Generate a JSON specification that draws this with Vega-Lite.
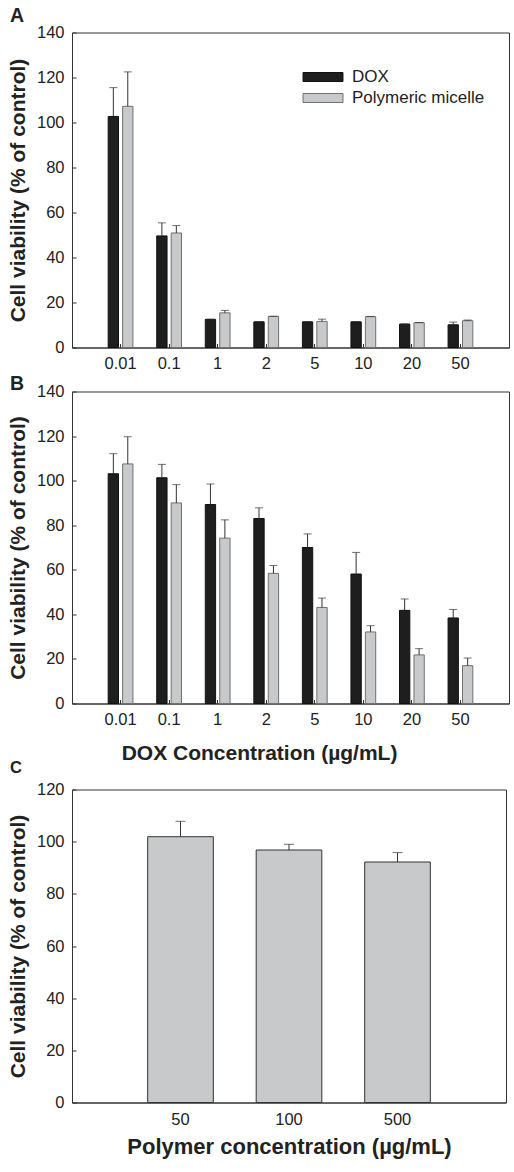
{
  "$schema": "https://vega.github.io/schema/vega-lite/v6.json",
  "background": "white",
  "padding": {"left": 6, "top": 5.5, "right": 5, "bottom": 5},
  "spacing": -4,
  "datasets": {
    "a": [
      {"conc": "0.01", "group": "DOX", "value": 102.7, "upper": 115.5},
      {"conc": "0.1", "group": "DOX", "value": 49.6, "upper": 55.4},
      {"conc": "1", "group": "DOX", "value": 12.5, "upper": 12.6},
      {"conc": "2", "group": "DOX", "value": 11.4, "upper": 11.5},
      {"conc": "5", "group": "DOX", "value": 11.4, "upper": 11.5},
      {"conc": "10", "group": "DOX", "value": 11.4, "upper": 11.5},
      {"conc": "20", "group": "DOX", "value": 10.4, "upper": 10.5},
      {"conc": "50", "group": "DOX", "value": 10.1, "upper": 11.3},
      {"conc": "0.01", "group": "Polymeric micelle", "value": 107.2, "upper": 122.5},
      {"conc": "0.1", "group": "Polymeric micelle", "value": 50.9, "upper": 54.2},
      {"conc": "1", "group": "Polymeric micelle", "value": 15.4, "upper": 16.5},
      {"conc": "2", "group": "Polymeric micelle", "value": 13.8, "upper": 13.9},
      {"conc": "5", "group": "Polymeric micelle", "value": 11.6, "upper": 12.6},
      {"conc": "10", "group": "Polymeric micelle", "value": 13.7, "upper": 13.8},
      {"conc": "20", "group": "Polymeric micelle", "value": 11.0, "upper": 11.1},
      {"conc": "50", "group": "Polymeric micelle", "value": 11.9, "upper": 12.2}
    ],
    "b": [
      {"conc": "0.01", "group": "DOX", "value": 103.1, "upper": 112.1},
      {"conc": "0.1", "group": "DOX", "value": 101.3, "upper": 107.3},
      {"conc": "1", "group": "DOX", "value": 89.3, "upper": 98.5},
      {"conc": "2", "group": "DOX", "value": 83.0, "upper": 87.8},
      {"conc": "5", "group": "DOX", "value": 70.0, "upper": 76.1},
      {"conc": "10", "group": "DOX", "value": 58.1, "upper": 67.8},
      {"conc": "20", "group": "DOX", "value": 41.8, "upper": 46.9},
      {"conc": "50", "group": "DOX", "value": 38.4, "upper": 42.2},
      {"conc": "0.01", "group": "Polymeric micelle", "value": 107.5, "upper": 119.7},
      {"conc": "0.1", "group": "Polymeric micelle", "value": 90.0, "upper": 98.2},
      {"conc": "1", "group": "Polymeric micelle", "value": 74.2, "upper": 82.4},
      {"conc": "2", "group": "Polymeric micelle", "value": 58.4, "upper": 61.9},
      {"conc": "5", "group": "Polymeric micelle", "value": 43.1, "upper": 47.3},
      {"conc": "10", "group": "Polymeric micelle", "value": 32.1, "upper": 34.9},
      {"conc": "20", "group": "Polymeric micelle", "value": 21.8, "upper": 24.6},
      {"conc": "50", "group": "Polymeric micelle", "value": 17.0, "upper": 20.4}
    ],
    "c": [
      {"conc": "50", "value": 101.9, "upper": 107.8},
      {"conc": "100", "value": 96.8, "upper": 99.0},
      {"conc": "500", "value": 92.2, "upper": 95.8}
    ]
  },
  "config": {
    "view": {"stroke": "#333333", "strokeWidth": 1},
    "font": "Liberation Sans",
    "axis": {
      "grid": false,
      "domainColor": "#333333",
      "tickColor": "#333333",
      "tickSize": -4,
      "labelFont": "Liberation Sans",
      "labelFontSize": 16.5,
      "labelColor": "#222222",
      "labelPadding": 12,
      "titleFont": "Liberation Sans",
      "titleFontSize": 21,
      "titleFontWeight": "bold",
      "titleColor": "#222222"
    },
    "title": {"font": "Liberation Sans", "fontSize": 19.5, "fontWeight": "bold", "color": "#222222", "anchor": "start", "frame": "group"}
  },
  "resolve": {"scale": {"color": "independent", "stroke": "independent", "x": "independent", "y": "independent"}},
  "vconcat": [
    {
      "spacing": 0,
      "resolve": {"scale": {"color": "independent", "stroke": "independent", "x": "independent", "y": "independent", "xOffset": "independent"}},
      "vconcat": [
        {
          "data": {"name": "a"},
          "width": 437,
          "height": 315,
          "title": {"text": "A", "dx": -62, "offset": -2.35},
          "encoding": {
            "x": {"field": "conc", "type": "ordinal", "sort": ["0.01", "0.1", "1", "2", "5", "10", "20", "50"],
                  "scale": {"paddingInner": 0.49, "paddingOuter": 0.745},
                  "axis": {"title": null, "labelAngle": 0}},
            "xOffset": {"field": "group", "type": "nominal", "sort": ["DOX", "Polymeric micelle"], "scale": {"paddingInner": 0.285, "paddingOuter": 0}}
          },
          "layer": [
            {
              "mark": {"type": "bar", "strokeWidth": 1},
              "encoding": {
                "y": {"field": "value", "type": "quantitative", "scale": {"domain": [0, 140]},
                      "axis": {"title": "Cell viability (% of control)", "values": [0, 20, 40, 60, 80, 100, 120, 140], "titlePadding": 8}},
                "color": {"field": "group", "type": "nominal", "scale": {"domain": ["DOX", "Polymeric micelle"], "range": ["#1e1e1e", "#c8c9cb"]},
                          "legend": {"orient": "none", "legendX": 242.5, "legendY": 36, "title": null, "symbolType": "M-4.44,-1L4.44,-1L4.44,1L-4.44,1Z", "symbolSize": 81, "labelFontSize": 17, "labelFont": "Liberation Sans", "labelColor": "#222222", "labelOffset": 20.5, "padding": 0, "rowPadding": 3, "symbolStrokeWidth": 1}},
                "stroke": {"field": "group", "type": "nominal", "scale": {"domain": ["DOX", "Polymeric micelle"], "range": ["#111111", "#707070"]},
                          "legend": {"orient": "none", "legendX": 242.5, "legendY": 36, "title": null, "symbolType": "M-4.44,-1L4.44,-1L4.44,1L-4.44,1Z", "symbolSize": 81, "labelFontSize": 17, "labelFont": "Liberation Sans", "labelColor": "#222222", "labelOffset": 20.5, "padding": 0, "rowPadding": 3, "symbolStrokeWidth": 1}}
              }
            },
            {
              "mark": {"type": "rule", "color": "#333333", "strokeWidth": 1},
              "encoding": {"y": {"field": "value", "type": "quantitative"}, "y2": {"field": "upper"}}
            },
            {
              "mark": {"type": "tick", "color": "#333333", "thickness": 1, "size": 8, "orient": "horizontal"},
              "encoding": {"y": {"field": "upper", "type": "quantitative"}}
            }
          ]
        },
        {
          "data": {"name": "b"},
          "width": 437,
          "height": 312,
          "title": {"text": "B", "dx": -62, "offset": -10.75},
          "encoding": {
            "x": {"field": "conc", "type": "ordinal", "sort": ["0.01", "0.1", "1", "2", "5", "10", "20", "50"],
                  "scale": {"paddingInner": 0.49, "paddingOuter": 0.745},
                  "axis": {"title": "DOX Concentration (µg/mL)", "labelAngle": 0, "titleX": 187, "titlePadding": 14}},
            "xOffset": {"field": "group", "type": "nominal", "sort": ["DOX", "Polymeric micelle"], "scale": {"paddingInner": 0.285, "paddingOuter": 0}}
          },
          "layer": [
            {
              "mark": {"type": "bar", "strokeWidth": 1},
              "encoding": {
                "y": {"field": "value", "type": "quantitative", "scale": {"domain": [0, 140]},
                      "axis": {"title": "Cell viability (% of control)", "values": [0, 20, 40, 60, 80, 100, 120, 140], "titlePadding": 8}},
                "color": {"field": "group", "type": "nominal", "scale": {"domain": ["DOX", "Polymeric micelle"], "range": ["#1e1e1e", "#c8c9cb"]}, "legend": null},
                "stroke": {"field": "group", "type": "nominal", "scale": {"domain": ["DOX", "Polymeric micelle"], "range": ["#111111", "#707070"]}, "legend": null}
              }
            },
            {
              "mark": {"type": "rule", "color": "#333333", "strokeWidth": 1},
              "encoding": {"y": {"field": "value", "type": "quantitative"}, "y2": {"field": "upper"}}
            },
            {
              "mark": {"type": "tick", "color": "#333333", "thickness": 1, "size": 8, "orient": "horizontal"},
              "encoding": {"y": {"field": "upper", "type": "quantitative"}}
            }
          ]
        }
      ]
    },
    {
      "data": {"name": "c"},
      "width": 434,
      "height": 313,
      "title": {"text": "C", "dx": -62, "offset": 4.75, "fontSize": 16.5},
      "encoding": {
        "x": {"field": "conc", "type": "ordinal", "sort": ["50", "100", "500"],
              "scale": {"paddingInner": 0.395, "paddingOuter": 0.6975},
              "axis": {"title": "Polymer concentration (µg/mL)", "labelAngle": 0, "labelPadding": 13, "titlePadding": 8, "titleFontSize": 22}}
      },
      "layer": [
        {
          "mark": {"type": "bar", "fill": "#c8c9cb", "stroke": "#333333", "strokeWidth": 1},
          "encoding": {
            "y": {"field": "value", "type": "quantitative", "scale": {"domain": [0, 120]},
                  "axis": {"title": "Cell viability (% of control)", "values": [0, 20, 40, 60, 80, 100, 120], "titlePadding": 8}}
          }
        },
        {
          "mark": {"type": "rule", "color": "#333333", "strokeWidth": 1},
          "encoding": {"y": {"field": "value", "type": "quantitative"}, "y2": {"field": "upper"}}
        },
        {
          "mark": {"type": "tick", "color": "#333333", "thickness": 1, "size": 10, "orient": "horizontal"},
          "encoding": {"y": {"field": "upper", "type": "quantitative"}}
        }
      ]
    }
  ]
}
